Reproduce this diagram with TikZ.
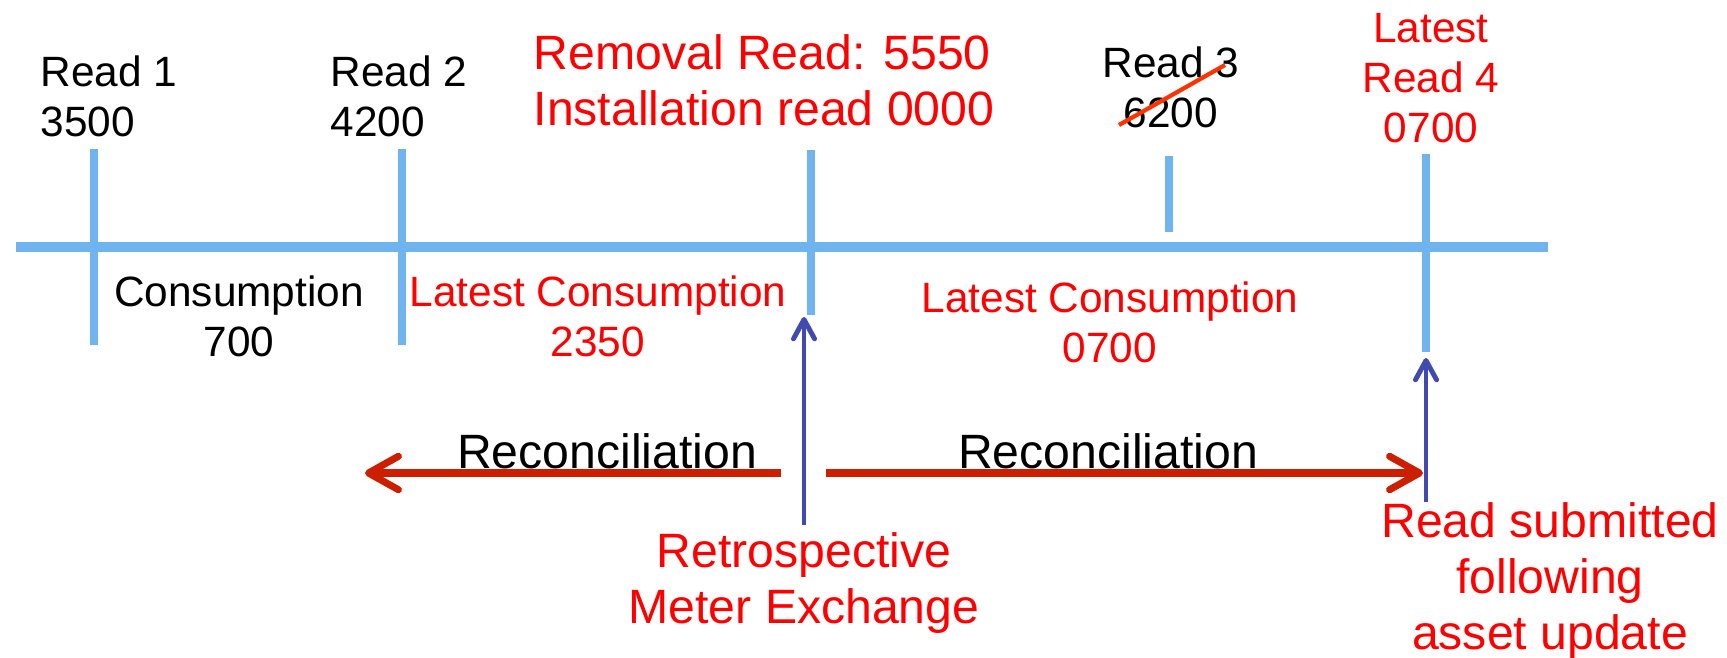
\documentclass[tikz,border=0pt]{standalone}
\usepackage{fontspec}
\setmainfont{Liberation Sans}
\usetikzlibrary{arrows.meta}

\begin{document}
\begin{tikzpicture}[x=0.01cm,y=-0.01cm,
  readlbl/.style={font=\fontsize{12.05}{14.2}\selectfont,inner sep=0pt,align=center},
  biglbl/.style={font=\fontsize{13.7}{15.9}\selectfont,inner sep=0pt,align=center},
  tickline/.style={draw=tickblue,line width=2.3pt},
  recon/.style={draw=arrowred,line width=2pt,-{Straight Barb[round,length=8.5pt,width=9.5pt]}},
  pointer/.style={draw=arrowblue,line width=1.4pt,-{Straight Barb[round,length=5.5pt,width=6pt]}}]
\definecolor{tickblue}{HTML}{6FB3EF}
\definecolor{arrowblue}{HTML}{414BAF}
\definecolor{arrowred}{HTML}{CC1F00}
\definecolor{textred}{HTML}{FF0000}
\definecolor{strikered}{HTML}{FF3300}

\useasboundingbox (0,0) rectangle (1727,657);

% Timeline and read markers
\draw[tickblue,line width=3.1pt] (16,247) -- (1548,247);
\foreach \x/\ya/\yb in {94/149/345,402/149/345,811/150/315,1169/156/232,1426/154/352} {
  \draw[tickline] (\x,\ya) -- (\x,\yb);
}

% Reads above the line
\node[readlbl,anchor=west,align=left] (read1) at (40,96) {Read 1\\3500};
\node[readlbl,anchor=west,align=left] (read2) at (330,96) {Read 2\\4200};
\node[biglbl,anchor=west,align=left,text=textred] (removal) at (533,80) {Removal Read: 5550\\Installation read 0000};
\node[readlbl] (read3) at (1171,87) {Read 3\\6200};
\draw[strikered,line width=1.2pt] (1119,125) -- (1225,65);
\node[readlbl,text=textred] (read4) at (1431,78) {Latest\\Read 4\\0700};

% Consumption below the line
\node[readlbl] (cons1) at (239,316) {Consumption\\700};
\node[readlbl,text=textred] (cons2) at (598,316) {Latest Consumption\\2350};
\node[readlbl,text=textred] (cons3) at (1110,322) {Latest Consumption\\0700};

% Reconciliation arrows
\node[biglbl,anchor=base] (recleft) at (607,468) {Reconciliation};
\node[biglbl,anchor=base] (recright) at (1108,468) {Reconciliation};
\coordinate (recmid1) at (781,473);
\coordinate (recend1) at (365,473);
\coordinate (recmid2) at (826,473);
\coordinate (recend2) at (1423,473);
\draw[recon] (recmid1) -- (recend1);
\draw[recon] (recmid2) -- (recend2);

% Events
\node[biglbl,text=textred] (retro) at (804,583) {Retrospective\\Meter Exchange};
\node[biglbl,text=textred] (submit) at (1550,581) {Read submitted\\following\\asset update};
\coordinate (exch) at (805,317);
\coordinate (subbot) at (1426,502);
\coordinate (subtop) at (1426,358);
\draw[pointer,shorten <=2pt] (retro.north) -- (retro.north |- exch);
\draw[pointer] (subbot) -- (subtop);
\end{tikzpicture}
\end{document}
